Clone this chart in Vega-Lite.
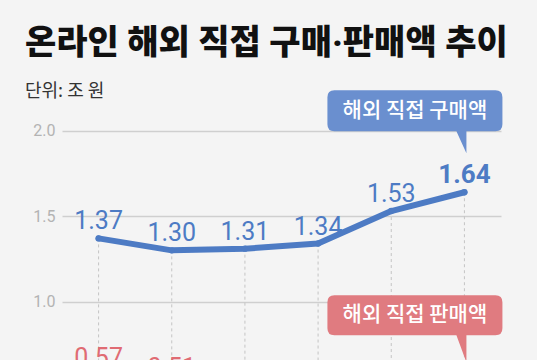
{
  "$schema": "https://vega.github.io/schema/vega-lite/v6.json",
  "width": 439,
  "height": 255,
  "autosize": {"type": "none"},
  "padding": {"left": 62, "top": 105, "right": 36, "bottom": 0},
  "background": "#f4f4f4",
  "title": {
    "text": "온라인 해외 직접 구매·판매액 추이",
    "subtitle": "단위: 조 원",
    "anchor": "start",
    "frame": "group",
    "dx": -37,
    "offset": -11,
    "font": "Roboto, 'Noto Sans CJK KR'",
    "fontSize": 34,
    "fontWeight": 900,
    "color": "#111111",
    "subtitleFont": "Noto Sans CJK KR",
    "subtitleFontSize": 18,
    "subtitleColor": "#333333",
    "subtitlePadding": 22
  },
  "config": {
    "view": {"stroke": null},
    "axis": {"labelFont": "Roboto"}
  },
  "data": {
    "values": [
      {"i": 1, "s": "구매액", "v": 1.37},
      {"i": 2, "s": "구매액", "v": 1.30},
      {"i": 3, "s": "구매액", "v": 1.31},
      {"i": 4, "s": "구매액", "v": 1.34},
      {"i": 5, "s": "구매액", "v": 1.53},
      {"i": 6, "s": "구매액", "v": 1.64},
      {"i": 1, "s": "판매액", "v": 0.57},
      {"i": 2, "s": "판매액", "v": 0.51},
      {"i": 3, "s": "판매액", "v": 0.46},
      {"i": 4, "s": "판매액", "v": 0.43},
      {"i": 5, "s": "판매액", "v": 0.41},
      {"i": 6, "s": "판매액", "v": 0.40}
    ]
  },
  "encoding": {
    "x": {"field": "i", "type": "quantitative", "scale": {"domain": [0.5, 6.5], "nice": false, "zero": false}, "axis": null},
    "y": {
      "field": "v", "type": "quantitative",
      "scale": {"domain": [0.659, 2.15], "nice": false, "zero": false},
      "axis": {
        "values": [1.0, 1.5, 2.0], "format": ".1f", "domain": false, "ticks": false,
        "grid": true, "gridColor": "#cfcfcf", "gridWidth": 1.5,
        "labelColor": "#b3b3b3", "labelFontSize": 16, "labelPadding": 7, "title": null
      }
    }
  },
  "layer": [
    {
      "transform": [{"filter": "datum.s === '구매액'"}],
      "mark": {"type": "rule", "color": "#c4c4c4", "strokeDash": [3, 3], "strokeWidth": 1},
      "encoding": {
        "y2": {"datum": 0}
      }
    },
    {
      "mark": {"type": "line", "strokeWidth": 6, "strokeCap": "round", "strokeJoin": "round"},
      "encoding": {
        "color": {"field": "s", "type": "nominal", "scale": {"domain": ["구매액", "판매액"], "range": ["#4d7bc4", "#e06b73"]}, "legend": null}
      }
    },
    {
      "mark": {"type": "point", "filled": true, "opacity": 1, "size": 40},
      "encoding": {
        "color": {"field": "s", "type": "nominal", "scale": {"domain": ["구매액", "판매액"], "range": ["#2b58a3", "#c94450"]}, "legend": null}
      }
    },
    {
      "transform": [{"filter": "datum.i < 6"}],
      "mark": {"type": "text", "font": "Roboto", "fontSize": 25, "baseline": "alphabetic", "dy": -9},
      "encoding": {
        "text": {"field": "v", "type": "quantitative", "format": ".2f"},
        "color": {"field": "s", "type": "nominal", "scale": {"domain": ["구매액", "판매액"], "range": ["#5a81c6", "#e06b73"]}, "legend": null}
      }
    },
    {
      "transform": [{"filter": "datum.i === 6"}],
      "mark": {"type": "text", "font": "Roboto", "fontSize": 26, "fontWeight": "bold", "baseline": "alphabetic", "dy": -9},
      "encoding": {
        "text": {"field": "v", "type": "quantitative", "format": ".2f"},
        "color": {"field": "s", "type": "nominal", "scale": {"domain": ["구매액", "판매액"], "range": ["#3f6db8", "#d9505b"]}, "legend": null}
      }
    },
    {
      "transform": [{"filter": "datum.i === 6 && datum.s === '구매액'"}],
      "mark": {
        "type": "point", "filled": true, "opacity": 1, "size": 4, "color": "#6a8fcf",
        "shape": "M -130 -102 H 31 Q 38 -102 38 -95 V -68 Q 38 -61 31 -61 H 2 V -39 L -8 -61 H -130 Q -137 -61 -137 -68 V -95 Q -137 -102 -130 -102 Z"
      }
    },
    {
      "transform": [{"filter": "datum.i === 6 && datum.s === '구매액'"}],
      "mark": {"type": "text", "text": "해외 직접 구매액", "font": "Noto Sans CJK KR", "fontSize": 21, "fontWeight": 500, "color": "#ffffff", "baseline": "middle", "dx": -49.5, "dy": -81.5}
    },
    {
      "transform": [{"filter": "datum.i === 6 && datum.s === '판매액'"}],
      "mark": {
        "type": "point", "filled": true, "opacity": 1, "size": 4, "color": "#e07b80",
        "shape": "M -130 -109 H 31 Q 38 -109 38 -102 V -76 Q 38 -69 31 -69 H 2 V -42 L -8 -69 H -130 Q -137 -69 -137 -76 V -102 Q -137 -109 -130 -109 Z"
      }
    },
    {
      "transform": [{"filter": "datum.i === 6 && datum.s === '판매액'"}],
      "mark": {"type": "text", "text": "해외 직접 판매액", "font": "Noto Sans CJK KR", "fontSize": 21, "fontWeight": 500, "color": "#ffffff", "baseline": "middle", "dx": -49.5, "dy": -89.3}
    }
  ]
}
